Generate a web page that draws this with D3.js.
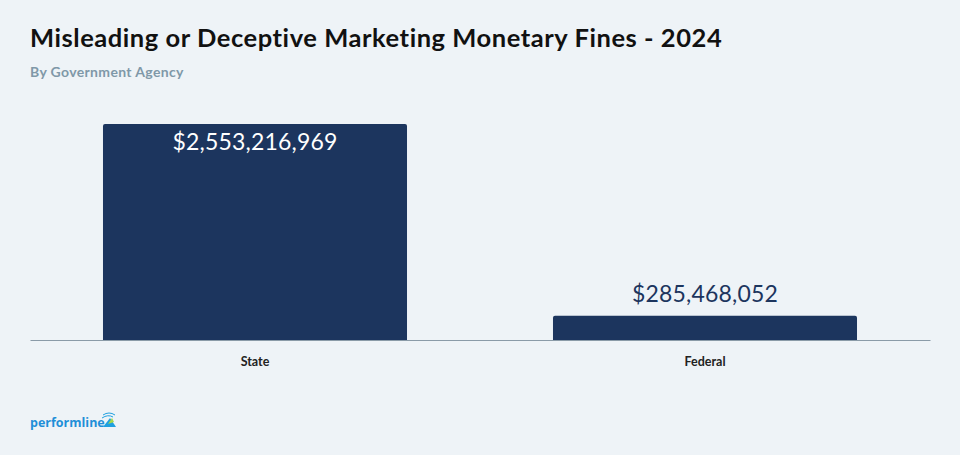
<!DOCTYPE html>
<html>
<head>
<meta charset="utf-8">
<script src="https://cdn.jsdelivr.net/npm/d3@7"></script>
<style>
  html, body { margin: 0; padding: 0; background: #eef3f7; }
  svg { display: block; }
  text { font-variant-ligatures: none; }
</style>
</head>
<body>
<svg id="chart" width="960" height="455"></svg>
<script>
const categories = ["State", "Federal"];
const values = [2553216969, 285468052];
const valueLabels = ["$2,553,216,969", "$285,468,052"];
const titleText = "Misleading or Deceptive Marketing Monetary Fines - 2024";
const subtitleText = "By Government Agency";

const svg = d3.select("#chart");
const W = 960, H = 455;
svg.append("rect").attr("width", W).attr("height", H).attr("fill", "#eef3f7");

svg.append("text").attr("x", 30).attr("y", 47)
  .attr("font-family", "Lato, 'Open Sans', sans-serif").attr("font-weight", 700)
  .attr("font-size", 25.5).attr("letter-spacing", 0.55).attr("fill", "#111").text(titleText);
svg.append("text").attr("x", 30).attr("y", 77)
  .attr("font-family", "Lato, 'Open Sans', sans-serif").attr("font-weight", 700)
  .attr("font-size", 14).attr("letter-spacing", 0.35).attr("fill", "#7f98a8").text(subtitleText);

const x = d3.scaleBand().domain(categories).range([30, 930])
  .paddingInner(0.3244).paddingOuter(0.1622);
const y = d3.scaleLinear().domain([0, d3.max(values)]).range([340, 124]);

const data = categories.map((c, i) => ({ c, v: values[i], label: valueLabels[i] }));

// bars with slightly rounded top corners
const r = 2;
svg.selectAll("path.bar").data(data).join("path").attr("class", "bar")
  .attr("fill", "#1c355e")
  .attr("d", d => {
    const x0 = x(d.c), x1 = x(d.c) + x.bandwidth(), yt = y(d.v), yb = y(0);
    return `M${x0},${yb}V${yt + r}Q${x0},${yt} ${x0 + r},${yt}H${x1 - r}Q${x1},${yt} ${x1},${yt + r}V${yb}Z`;
  });

// axis
const axis = svg.append("g").attr("transform", `translate(0,${y(0)})`)
  .call(d3.axisBottom(x).tickSize(0).tickPadding(17));
axis.select(".domain").attr("stroke", "#8a9ba8").attr("stroke-width", 1);
axis.selectAll("text").attr("font-family", "Lato, 'Open Sans', sans-serif")
  .attr("font-weight", 700).attr("font-size", 12.5).attr("fill", "#222");

// value labels
svg.selectAll("text.val").data(data).join("text").attr("class", "val")
  .attr("x", d => x(d.c) + x.bandwidth() / 2)
  .attr("y", d => (y(0) - y(d.v) > 60 ? y(d.v) + 26 : y(d.v) - 14))
  .attr("text-anchor", "middle")
  .attr("font-family", "Lato, 'Open Sans', sans-serif").attr("font-weight", 400)
  .attr("font-size", 23).attr("letter-spacing", 0.2)
  .attr("fill", d => (y(0) - y(d.v) > 60 ? "#ffffff" : "#1c355e"))
  .text(d => d.label);

// logo
const logo = svg.append("g").attr("transform", "translate(30,427)");
logo.append("text").attr("x", 0).attr("y", 0)
  .attr("font-family", "'Open Sans', sans-serif").attr("font-weight", 700)
  .attr("font-size", 12.5).attr("fill", "#1f8fd8").text("performline");
logo.append("path").attr("d", "M73,0 L80,-9 L86,0 Z").attr("fill", "#1fa0e0");
logo.append("path").attr("d", "M78,-3 L82,-9 L84,-5 Z").attr("fill", "#a6d94a");
logo.append("path").attr("d", "M72,-9 Q78,-13 83,-10").attr("fill", "none").attr("stroke", "#1fa0e0").attr("stroke-width", 1);
logo.append("path").attr("d", "M73,-12 Q79,-16 85,-12").attr("fill", "none").attr("stroke", "#1fa0e0").attr("stroke-width", 1);
</script>
</body>
</html>
